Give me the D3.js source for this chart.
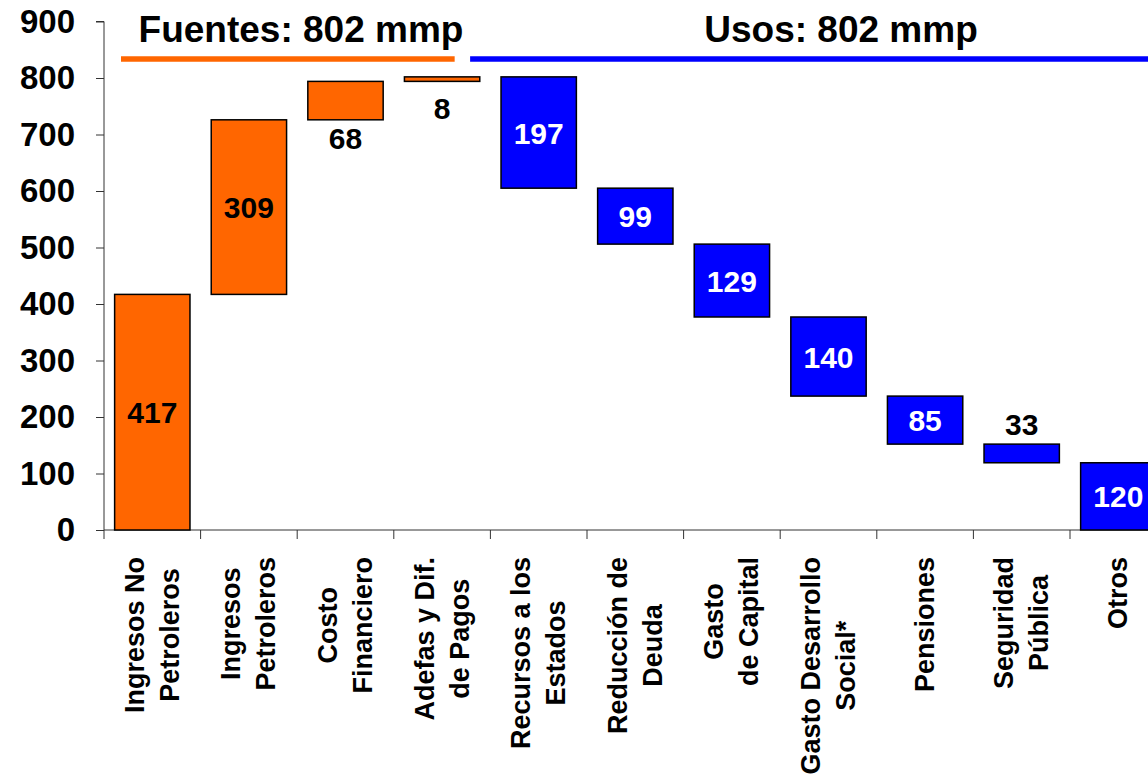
<!DOCTYPE html>
<html>
<head>
<meta charset="utf-8">
<script src="https://cdn.jsdelivr.net/npm/d3@7"></script>
<style>
  body { margin: 0; background: #fff; }
  svg { display: block; font-family: "Liberation Sans", Arial, sans-serif; font-weight: bold; }
</style>
</head>
<body>
<script>
const wdth = 1148;
const hght = 779;

// data
const categories = ["Ingresos No Petroleros", "Ingresos Petroleros", "Costo Financiero", "Adefas y Dif. de Pagos",
  "Recursos a los Estados", "Reducción de Deuda", "Gasto de Capital", "Gasto Desarrollo Social*",
  "Pensiones", "Seguridad Pública", "Otros"];
const categoryLines = [["Ingresos No", "Petroleros"], ["Ingresos", "Petroleros"], ["Costo", "Financiero"],
  ["Adefas y Dif.", "de Pagos"], ["Recursos a los", "Estados"], ["Reducción de", "Deuda"],
  ["Gasto", "de Capital"], ["Gasto Desarrollo", "Social*"], ["Pensiones"], ["Seguridad", "Pública"], ["Otros"]];
const values = [417, 309, 68, 8, 197, 99, 129, 140, 85, 33, 120];
const kinds = ["fuente", "fuente", "fuente", "fuente", "uso", "uso", "uso", "uso", "uso", "uso", "uso"];
const labelPlace = ["in", "in", "below", "below", "in", "in", "in", "in", "in", "above", "in"];
const yTicks = [0, 100, 200, 300, 400, 500, 600, 700, 800, 900];
const headers = ["Fuentes: 802 mmp", "Usos: 802 mmp"];

const orange = "#FF6600";
const blue = "#0000FF";

// waterfall: fuentes stack up, usos come down from the total
let level = 0;
const bars = values.map((v, i) => {
  let start, end;
  if (kinds[i] === "fuente") { start = level; end = level + v; level = end; }
  else { start = level; end = Math.max(0, level - v); level = level - v; }
  return { cat: categories[i], value: v, kind: kinds[i], place: labelPlace[i],
           lo: Math.min(start, end), hi: Math.max(start, end) };
});

const y = d3.scaleLinear().domain([0, 900]).range([530, 21.5]);
const x = d3.scaleBand().domain(categories).range([104, 104 + 96.6 * 11])
  .paddingInner(0.22).paddingOuter(0.11);

const svg = d3.select("body").append("svg")
  .attr("width", wdth).attr("height", hght);

// y axis
const yAxis = svg.append("g").attr("transform", "translate(104,0)")
  .call(d3.axisLeft(y).tickValues(yTicks).tickSize(8).tickPadding(21));
yAxis.select(".domain").attr("stroke", "#333").attr("d", "M-8," + y(900) + "H0V" + y(0));
yAxis.selectAll("line").attr("stroke", "#333");
yAxis.selectAll("text").attr("font-size", "33px").attr("font-weight", "bold")
  .attr("font-family", "Liberation Sans, Arial, sans-serif").attr("fill", "#000");

// x axis line + ticks at band boundaries
svg.append("line").attr("x1", 104).attr("x2", wdth).attr("y1", y(0)).attr("y2", y(0)).attr("stroke", "#333");
const bounds = categories.map(c => x(c) + x.bandwidth() / 2 - x.step() / 2);
svg.selectAll(".xtick").data(bounds).enter().append("line")
  .attr("class", "xtick")
  .attr("x1", d => d).attr("x2", d => d)
  .attr("y1", y(0)).attr("y2", y(0) + 9)
  .attr("stroke", "#333");

// bars
svg.selectAll(".bar").data(bars).enter().append("rect")
  .attr("class", "bar")
  .attr("x", d => x(d.cat))
  .attr("width", x.bandwidth())
  .attr("y", d => y(d.hi))
  .attr("height", d => y(d.lo) - y(d.hi))
  .attr("fill", d => d.kind === "fuente" ? orange : blue)
  .attr("stroke", "#000")
  .attr("stroke-width", 1.5);

// value labels
svg.selectAll(".val").data(bars).enter().append("text")
  .attr("class", "val")
  .text(d => d.value)
  .attr("x", d => x(d.cat) + x.bandwidth() / 2)
  .attr("y", d => {
    const h = y(d.lo) - y(d.hi);
    if (d.place === "below") return y(d.lo) + (h < 20 ? 38 : 29);
    if (d.place === "above") return y(d.hi) - 9;
    return (y(d.lo) + y(d.hi)) / 2 + 11;
  })
  .attr("text-anchor", "middle")
  .attr("font-size", "30px")
  .attr("fill", d => (d.kind === "uso" && d.place === "in") ? "#fff" : "#000");

// category labels, rotated, lines centred on each other, top-aligned below axis
categoryLines.forEach((lines, i) => {
  const cx = x(categories[i]) + x.bandwidth() / 2;
  const g = svg.append("g");
  const texts = lines.map((t, j) => g.append("text")
    .text(t)
    .attr("font-size", "27px")
    .attr("text-anchor", "middle")
    .attr("dominant-baseline", "central")
    .attr("x", 0)
    .attr("y", (j - (lines.length - 1) / 2) * 35));
  const maxLen = d3.max(texts, t => t.node().getComputedTextLength());
  g.attr("transform", "translate(" + cx + "," + (557 + maxLen / 2) + ") rotate(-90)");
});

// headers
svg.append("text").text(headers[0])
  .attr("x", 301).attr("y", 42)
  .attr("text-anchor", "middle").attr("font-size", "37px");
svg.append("text").text(headers[1])
  .attr("x", 841).attr("y", 42)
  .attr("text-anchor", "middle").attr("font-size", "37px");

svg.append("line")
  .attr("x1", x(categories[0]) + x.step() * 0.066).attr("x2", x(categories[3]) + x.step() * 0.52)
  .attr("y1", 59).attr("y2", 59)
  .attr("stroke", orange).attr("stroke-width", 5.5);
svg.append("line")
  .attr("x1", x(categories[3]) + x.step() * 0.68).attr("x2", wdth)
  .attr("y1", 59).attr("y2", 59)
  .attr("stroke", blue).attr("stroke-width", 5.5);
</script>
</body>
</html>
